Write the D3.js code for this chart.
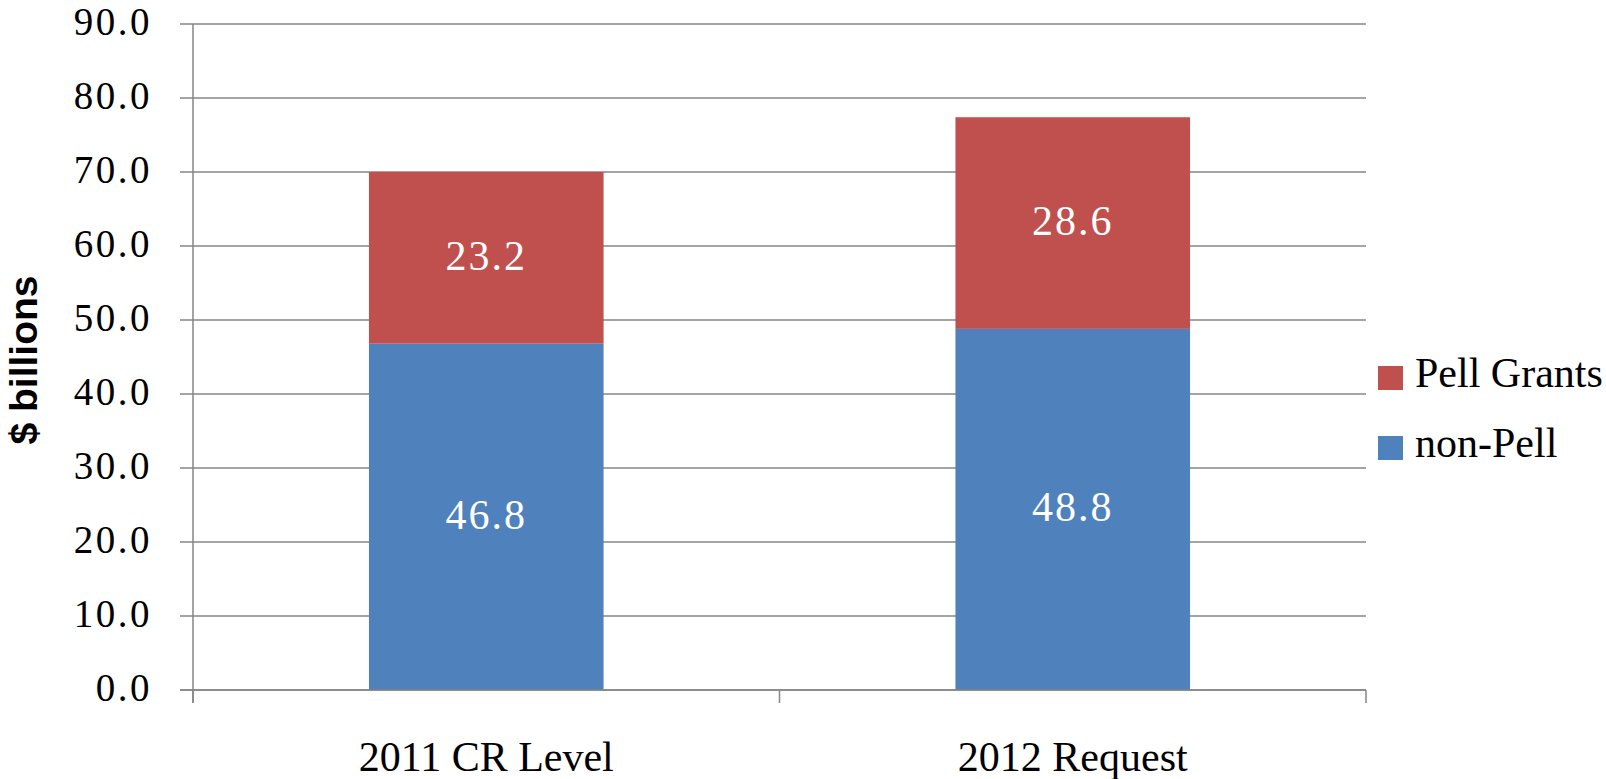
<!DOCTYPE html>
<html>
<head>
<meta charset="utf-8">
<script src="https://cdn.jsdelivr.net/npm/d3@7"></script>
<style>
  html, body { margin: 0; padding: 0; background: #fff; }
  svg { display: block; }
</style>
</head>
<body>
<svg id="chart" width="1606" height="779"></svg>
<script>
const categories = ["2011 CR Level", "2012 Request"];
const seriesNames = ["non-Pell", "Pell Grants"];
const nonPell = [46.8, 48.8];
const pell = [23.2, 28.6];
const yTicks = [0, 10, 20, 30, 40, 50, 60, 70, 80, 90];
const colors = { "non-Pell": "#4F81BD", "Pell Grants": "#C0504D" };

(function () {
const rows = categories.map((c, i) => ({ category: c, "non-Pell": nonPell[i], "Pell Grants": pell[i] }));
const stacked = d3.stack().keys(seriesNames)(rows);

const svg = d3.select("#chart");
const pLeft = 193, pRight = 1366, pTop = 24, pBottom = 690;
const serif = "'Liberation Serif', 'Times New Roman', serif";

const x = d3.scaleBand().domain(categories).range([pLeft, pRight]).paddingInner(0.6).paddingOuter(0.3);
const xFull = d3.scaleBand().domain(categories).range([pLeft, pRight]).padding(0);
const y = d3.scaleLinear().domain([0, 90]).range([pBottom, pTop]);

// gridlines
svg.append("g").selectAll("line").data(yTicks).join("line")
  .attr("x1", pLeft - 13).attr("x2", pRight)
  .attr("y1", d => y(d)).attr("y2", d => y(d))
  .attr("stroke", "#868686").attr("stroke-width", 1.5);

// y axis line
svg.append("line").attr("x1", pLeft).attr("x2", pLeft).attr("y1", pTop).attr("y2", pBottom + 13)
  .attr("stroke", "#868686").attr("stroke-width", 1.5);

// x category ticks
const xTickPos = [pLeft, ...categories.map(c => xFull(c) + xFull.bandwidth())];
svg.append("g").selectAll("line").data(xTickPos).join("line")
  .attr("x1", d => d).attr("x2", d => d).attr("y1", pBottom).attr("y2", pBottom + 13)
  .attr("stroke", "#868686").attr("stroke-width", 1.5);

// bars
svg.append("g").selectAll("g").data(stacked).join("g")
  .attr("fill", d => colors[d.key])
  .selectAll("rect").data(d => d).join("rect")
  .attr("x", d => x(d.data.category))
  .attr("width", x.bandwidth())
  .attr("y", d => y(d[1]))
  .attr("height", d => y(d[0]) - y(d[1]));

// x axis baseline over bars
svg.append("line").attr("x1", pLeft - 13).attr("x2", pRight).attr("y1", pBottom).attr("y2", pBottom)
  .attr("stroke", "#868686").attr("stroke-width", 1.5);

// data labels
svg.append("g").selectAll("g").data(stacked).join("g")
  .selectAll("text").data(d => d).join("text")
  .attr("x", d => x(d.data.category) + x.bandwidth() / 2)
  .attr("y", d => (y(d[0]) + y(d[1])) / 2 + 12)
  .attr("text-anchor", "middle")
  .attr("fill", "#fff")
  .style("font-family", serif).style("font-size", "42px").style("letter-spacing", "2px")
  .text(d => (d[1] - d[0]).toFixed(1));

// y tick labels
svg.append("g").selectAll("text").data(yTicks).join("text")
  .attr("x", 152).attr("y", d => y(d) + 11)
  .attr("text-anchor", "end")
  .style("font-family", serif).style("font-size", "39px").style("letter-spacing", "2.5px")
  .text(d => d.toFixed(1));

// x labels
svg.append("g").selectAll("text").data(categories).join("text")
  .attr("x", d => xFull(d) + xFull.bandwidth() / 2).attr("y", pBottom + 81)
  .attr("text-anchor", "middle")
  .style("font-family", serif).style("font-size", "42px")
  .text(d => d);

// y title
svg.append("text")
  .attr("transform", "translate(37,360) rotate(-90)")
  .attr("text-anchor", "middle")
  .style("font-family", "'Liberation Sans', Arial, sans-serif").style("font-weight", "bold").style("font-size", "39px")
  .text("$ billions");

// legend
const legendItems = ["Pell Grants", "non-Pell"];
const lg = svg.append("g").selectAll("g").data(legendItems).join("g")
  .attr("transform", (d, i) => `translate(1378, ${366 + i * 70})`);
lg.append("rect").attr("width", 25).attr("height", 24).attr("fill", d => colors[d]);
lg.append("text").attr("x", 37).attr("y", 21)
  .style("font-family", serif).style("font-size", "42px")
  .text(d => d);
})();
</script>
</body>
</html>
